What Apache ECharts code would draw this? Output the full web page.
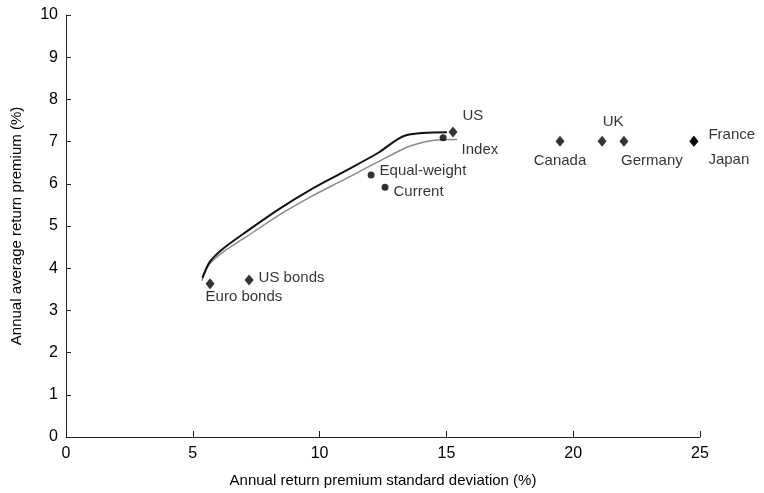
<!DOCTYPE html>
<html>
<head>
<meta charset="utf-8">
<script src="https://cdn.jsdelivr.net/npm/echarts@6/dist/echarts.min.js"></script>
<style>
  html, body { margin: 0; padding: 0; background: #fff; }
  #main { width: 764px; height: 493px; }
</style>
</head>
<body>
<div id="main"></div>
<script>
// tick labels
var xTicks = [0, 5, 10, 15, 20, 25];
var yTicks = [0, 1, 2, 3, 4, 5, 6, 7, 8, 9, 10];

// frontier curves (std dev, return)
var upperFrontier = [
    [5.38, 3.77], [5.67, 4.15], [6.19, 4.46], [7.10, 4.86], [8.40, 5.40],
    [9.70, 5.88], [11.00, 6.30], [12.30, 6.73], [13.41, 7.15], [15.02, 7.22]
];
var lowerFrontier = [
    [5.36, 3.70], [5.64, 4.08], [6.19, 4.38], [7.10, 4.74], [8.40, 5.26],
    [9.70, 5.71], [11.00, 6.11], [12.30, 6.52], [13.60, 6.90], [14.63, 7.04],
    [15.42, 7.05]
];

// individual assets / portfolios
var pointNames = ['US', 'Index', 'Equal-weight', 'Current', 'US bonds', 'Euro bonds',
                  'Canada', 'UK', 'Germany', 'France', 'Japan'];
var pointX = [15.26, 14.87, 12.03, 12.58, 7.22, 5.68, 19.48, 21.14, 22.00, 24.76, 24.76];
var pointY = [7.23, 7.09, 6.21, 5.92, 3.72, 3.63, 7.01, 7.01, 7.01, 7.01, 7.01];
var pointShape = ['diamond', 'circle', 'circle', 'circle', 'diamond', 'diamond',
                  'diamond', 'diamond', 'diamond', 'diamond', 'diamond'];

// label placement per point
var labelPos = {
    'US':           { position: 'right',  offset: [0, -16] },
    'Index':        { position: 'right',  offset: [10, 12] },
    'Equal-weight': { position: 'right',  offset: [0, -4] },
    'Current':      { position: 'right',  offset: [0, 5] },
    'US bonds':     { position: 'right',  offset: [0, -2] },
    'Euro bonds':   { position: 'right',  offset: [-14, 13] },
    'Canada':       { position: 'bottom', offset: [0, 2] },
    'UK':           { position: 'top',    offset: [11, -1] },
    'Germany':      { position: 'bottom', offset: [28, 2] },
    'France':       { position: 'right',  offset: [5, -6] },
    'Japan':        { position: 'right',  offset: [5, 19] }
};

var font = 'Liberation Sans, Arial, Helvetica, sans-serif';

var points = pointNames.map(function(n, i){
    var lp = labelPos[n];
    return {
        name: n,
        value: [pointX[i], pointY[i]],
        symbol: pointShape[i],
        symbolSize: pointShape[i] == 'diamond' ? [9, 11] : 7,
        label: {
            show: true,
            formatter: n,
            position: lp.position,
            offset: lp.offset,
            distance: 5,
            color: '#000',
            fontSize: 15,
            fontFamily: font
        }
    };
});

var myChart = echarts.init(document.getElementById('main'));
var option = {
    animation: false,
    backgroundColor: '#fff',
    grid: { left: 66, right: 64, top: 15, bottom: 56 },
    xAxis: {
        type: 'value',
        min: 0, max: 25, interval: 5,
        name: 'Annual return premium standard deviation (%)',
        nameLocation: 'middle',
        nameGap: 36,
        nameTextStyle: { color: '#000', fontSize: 15, fontFamily: font },
        splitLine: { show: false },
        axisLine: { lineStyle: { color: '#222', width: 1 } },
        axisTick: { inside: true, length: 6, lineStyle: { color: '#222' } },
        axisLabel: {
            color: '#000', fontSize: 16, fontFamily: font, margin: 9,
            formatter: function(v){ return xTicks.indexOf(v) >= 0 ? v : ''; }
        }
    },
    yAxis: {
        type: 'value',
        min: 0, max: 10, interval: 1,
        name: 'Annual average return premium (%)',
        nameLocation: 'middle',
        nameGap: 42,
        nameTextStyle: { color: '#000', fontSize: 15, fontFamily: font },
        splitLine: { show: false },
        axisLine: { show: true, lineStyle: { color: '#222', width: 1 } },
        axisTick: { show: true, inside: true, length: 5, lineStyle: { color: '#222' } },
        axisLabel: {
            color: '#000', fontSize: 16, fontFamily: font, margin: 8,
            formatter: function(v){ return yTicks.indexOf(v) >= 0 ? v : ''; }
        }
    },
    series: [
        {
            type: 'line',
            data: lowerFrontier,
            smooth: 0.3,
            showSymbol: false,
            lineStyle: { color: '#8a8a8a', width: 1.5 },
            z: 2
        },
        {
            type: 'line',
            data: upperFrontier,
            smooth: 0.3,
            showSymbol: false,
            lineStyle: { color: '#111', width: 2 },
            z: 3
        },
        {
            type: 'scatter',
            data: points,
            itemStyle: { color: '#000' },
            z: 4
        }
    ]
};
myChart.setOption(option);
</script>
</body>
</html>
